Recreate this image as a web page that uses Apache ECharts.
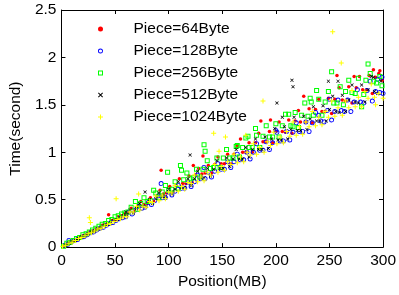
<!DOCTYPE html>
<html>
<head>
<meta charset="utf-8">
<script src="https://cdn.jsdelivr.net/npm/echarts@6/dist/echarts.min.js"></script>
<style>
  html, body { margin: 0; padding: 0; background: #fff; }
  #chart { width: 399px; height: 295px; }
</style>
</head>
<body>
<div id="chart"></div>
<script>
// series names as in the legend
const names = ['Piece=64Byte', 'Piece=128Byte', 'Piece=256Byte', 'Piece=512Byte', 'Piece=1024Byte'];

// [position MB, time s]
const piece64 = [[2,.01],[5,.03],[8,.05],[11,.06],[14,.08],[17,.10],[20,.12],[23,.13],[26,.16],[29,.17],[32,.19],[35,.20],[38,.23],[41,.24],[44,.34],[47,.28],[50,.29],[53,.32],[56,.33],[59,.35],[62,.36],[65,.41],[68,.38],[71,.43],[74,.48],[77,.45],[80,.46],[83,.52],[86,.48],[89,.54],[92,.60],[93,.81],[95,.56],[98,.57],[101,.64],[104,.58],[107,.65],[110,.72],[113,.67],[116,.67],[119,.75],[122,.68],[123,.86],[125,.76],[128,.83],[131,.77],[132,.96],[134,.78],[137,.86],[140,.78],[143,.87],[146,.95],[149,.88],[152,.88],[155,.98],[158,.88],[161,.98],[164,1.07],[167,1.14],[169,1.00],[172,1.00],[175,1.10],[178,1.00],[181,1.10],[184,1.20],[186,1.33],[188,1.11],[191,1.11],[194,1.22],[195,1.34],[197,1.10],[200,1.22],[203,1.32],[206,1.22],[209,1.21],[212,1.34],[215,1.20],[218,1.33],[221,1.44],[223,1.32],[226,1.59],[228,1.32],[231,1.46],[234,1.31],[237,1.45],[240,1.56],[243,1.43],[246,1.43],[249,1.57],[252,1.41],[255,1.56],[257,1.81],[259,1.68],[262,1.55],[265,1.54],[268,1.69],[271,1.52],[273,1.80],[275,1.68],[278,1.80],[281,1.66],[284,1.65],[287,1.81],[290,1.62],[291,1.87],[293,1.79],[296,1.83],[297,1.86],[299,1.76]];

const piece128 = [[3,.02],[6,.03],[7,.07],[9,.05],[12,.07],[15,.08],[18,.10],[21,.11],[24,.13],[27,.15],[30,.16],[33,.18],[36,.20],[39,.21],[42,.23],[45,.25],[48,.26],[51,.28],[54,.30],[57,.31],[60,.32],[63,.37],[66,.35],[69,.39],[72,.43],[75,.41],[78,.42],[81,.47],[84,.45],[87,.49],[90,.54],[93,.67],[94,.52],[97,.52],[100,.58],[103,.55],[106,.59],[109,.65],[112,.62],[115,.62],[118,.68],[121,.64],[124,.69],[127,.76],[130,.72],[133,.84],[134,.72],[137,.79],[140,.74],[143,.80],[146,.88],[149,.82],[152,.82],[155,.90],[158,.84],[161,.90],[164,.98],[167,.92],[170,.92],[173,1.00],[176,.93],[179,1.00],[182,1.09],[185,1.02],[188,1.02],[191,1.11],[194,1.03],[197,1.10],[200,1.23],[201,1.21],[204,1.12],[207,1.12],[210,1.22],[213,1.13],[216,1.21],[219,1.31],[222,1.22],[225,1.22],[228,1.32],[231,1.22],[234,1.31],[237,1.42],[240,1.39],[242,1.33],[245,1.32],[248,1.44],[250,1.56],[252,1.34],[255,1.43],[258,1.55],[261,1.44],[264,1.43],[267,1.55],[270,1.43],[273,1.53],[276,1.66],[279,1.53],[282,1.52],[285,1.65],[288,1.75],[290,1.54],[293,1.64],[295,1.77],[297,1.63],[299,1.79],[300,1.62]];

const piece256 = [[2,.01],[5,.04],[8,.05],[11,.07],[14,.09],[17,.10],[20,.13],[23,.14],[26,.16],[29,.18],[32,.20],[35,.22],[38,.24],[41,.25],[44,.28],[47,.29],[50,.32],[53,.33],[56,.35],[59,.36],[62,.37],[65,.42],[69,.48],[71,.40],[74,.46],[77,.52],[80,.48],[83,.49],[86,.60],[88,.57],[91,.52],[94,.58],[97,.65],[99,.79],[100,.60],[103,.61],[106,.69],[109,.62],[111,.86],[112,.81],[114,.71],[117,.78],[120,.72],[123,.73],[126,.82],[129,.74],[132,.82],[133,1.08],[134,1.01],[136,.91],[139,.83],[142,.84],[145,.94],[148,.84],[151,.94],[154,1.03],[157,.94],[160,.94],[163,1.06],[164,1.07],[166,.95],[169,1.05],[172,1.15],[174,1.17],[175,1.05],[178,1.05],[181,1.25],[182,1.18],[185,1.05],[188,1.17],[191,1.28],[194,1.16],[197,1.16],[200,1.30],[203,1.16],[206,1.28],[209,1.40],[212,1.40],[214,1.28],[216,1.27],[218,1.42],[221,1.26],[224,1.39],[227,1.52],[230,1.38],[232,1.57],[233,1.53],[235,1.39],[238,1.65],[240,1.56],[243,1.39],[246,1.53],[249,1.64],[252,1.85],[254,1.52],[257,1.52],[260,1.69],[263,1.50],[265,1.64],[268,1.76],[271,1.63],[274,1.62],[277,1.78],[280,1.48],[282,1.61],[284,1.76],[286,1.93],[288,1.83],[291,1.75],[294,1.73],[297,1.80],[299,1.70]];

const piece512 = [[4,.02],[7,.04],[10,.06],[13,.07],[16,.09],[19,.11],[22,.12],[25,.14],[28,.16],[31,.17],[34,.19],[37,.21],[40,.23],[43,.24],[46,.26],[49,.28],[52,.29],[55,.31],[58,.33],[60,.37],[61,.34],[64,.39],[67,.36],[70,.41],[73,.46],[76,.43],[78,.58],[79,.43],[82,.50],[85,.46],[88,.51],[91,.57],[94,.53],[97,.53],[100,.61],[103,.56],[106,.61],[109,.69],[112,.63],[115,.63],[118,.72],[120,.97],[121,.65],[124,.72],[127,.80],[130,.73],[133,.73],[136,.83],[139,.75],[142,.82],[145,.91],[148,.83],[151,.83],[154,.94],[157,.85],[160,.93],[163,1.03],[166,.93],[169,.93],[172,1.05],[175,.95],[178,1.03],[181,1.14],[184,1.03],[187,1.03],[190,1.16],[193,1.04],[196,1.14],[199,1.25],[201,1.52],[202,1.13],[205,1.13],[206,1.37],[208,1.27],[211,1.14],[214,1.24],[215,1.76],[216,1.69],[217,1.37],[220,1.23],[223,1.23],[226,1.38],[229,1.24],[232,1.35],[235,1.48],[238,1.33],[241,1.33],[244,1.49],[247,1.33],[249,1.75],[250,1.45],[253,1.59],[256,1.43],[258,1.75],[259,1.42],[262,1.60],[265,1.43],[268,1.55],[271,1.71],[274,1.53],[277,1.52],[280,1.71],[283,1.53],[286,1.66],[289,1.80],[291,1.79],[292,1.64],[295,1.62],[298,1.75]];

const piece1024 = [[1,.01],[4,.02],[7,.04],[10,.05],[13,.07],[16,.09],[19,.10],[22,.12],[25,.14],[26,.31],[27,.26],[28,.15],[31,.17],[34,.19],[37,.20],[40,.22],[43,.24],[46,.25],[49,.27],[51,.51],[52,.29],[55,.30],[58,.32],[61,.32],[64,.37],[67,.37],[70,.43],[72,.56],[73,.39],[76,.43],[79,.42],[82,.48],[85,.47],[88,.54],[91,.49],[94,.54],[97,.51],[100,.58],[103,.57],[106,.65],[109,.59],[112,.64],[115,.61],[118,.68],[121,.67],[124,.76],[127,.69],[130,.74],[133,.70],[136,.79],[139,.76],[142,1.20],[143,.87],[146,.79],[147,1.01],[149,.85],[152,.81],[153,1.16],[155,.90],[158,.87],[161,.98],[164,.89],[167,.95],[170,.90],[172,1.18],[173,1.00],[176,.97],[179,1.09],[182,.98],[185,1.05],[188,1.54],[189,1.00],[192,1.11],[195,1.07],[198,1.21],[201,1.09],[204,1.16],[207,1.10],[210,1.22],[213,1.17],[216,1.32],[219,1.18],[222,1.27],[225,1.19],[228,1.32],[231,1.27],[234,1.43],[237,1.28],[240,1.37],[243,1.29],[246,1.43],[249,1.37],[252,1.54],[253,2.27],[255,1.38],[258,1.47],[261,1.94],[262,1.39],[265,1.54],[268,1.47],[271,1.65],[274,1.48],[277,1.58],[280,1.48],[283,1.64],[286,1.57],[289,1.72],[292,1.58],[293,1.50],[296,1.62],[300,1.57]];

const font = 'Liberation Sans, Arial, sans-serif';
const chart = echarts.init(document.getElementById('chart'));

// matlab-ish markers, all drawn as filled paths so they stay hollow
const ring = 'path://M5,0A5,5 0 1,1 4.99,0Z M5,1.8A3.2,3.2 0 1,0 5.01,1.8Z';
const box = 'path://M0,0H10V10H0Z M2,2V8H8V2Z';
const cross = 'path://M0,1.4L1.4,0L10,8.6L8.6,10Z M8.6,0L10,1.4L1.4,10L0,8.6Z';
const plus = 'path://M4,0H6V10H4Z M0,4H10V6H0Z';

const mk = (name, data, symbol, size, color) => ({
  name, type: 'scatter', data, symbol, symbolSize: size,
  itemStyle: { color, opacity: 1 },
  emphasis: { disabled: true },
  animation: false
});

const axisCommon = {
  axisLine: { show: true, onZero: false, lineStyle: { color: '#000', width: 1 } },
  axisTick: { show: true, inside: true, length: 4, lineStyle: { color: '#000' } },
  splitLine: { show: false }
};

chart.setOption({
  backgroundColor: '#fff',
  animation: false,
  grid: { left: 58, right: 12, top: 10, bottom: 46 },
  legend: {
    orient: 'vertical',
    left: 98, top: 21,
    padding: 0,
    itemWidth: 50, itemHeight: 5, itemGap: 6,
    textStyle: { fontFamily: font, fontSize: 15.5, color: '#000', lineHeight: 16, padding: [0, 0, 0, 3] },
    data: names
  },
  xAxis: [
    Object.assign({
      type: 'value', min: 0, max: 300, interval: 50, position: 'bottom',
      name: 'Position(MB)', nameLocation: 'middle', nameGap: 25,
      nameTextStyle: { fontFamily: font, fontSize: 15.5, color: '#000' },
      axisLabel: { fontFamily: font, fontSize: 15.5, color: '#000', margin: 6 }
    }, axisCommon),
    Object.assign({
      type: 'value', min: 0, max: 300, interval: 50, position: 'top',
      axisLabel: { show: false }
    }, axisCommon)
  ],
  yAxis: [
    Object.assign({
      type: 'value', min: 0, max: 2.5, interval: 0.5, position: 'left',
      name: 'Time(second)', nameLocation: 'middle', nameGap: 35,
      nameTextStyle: { fontFamily: font, fontSize: 15.5, color: '#000' },
      axisLabel: { fontFamily: font, fontSize: 15.5, color: '#000', margin: 5 }
    }, axisCommon),
    Object.assign({
      type: 'value', min: 0, max: 2.5, interval: 0.5, position: 'right',
      axisLabel: { show: false }
    }, axisCommon)
  ],
  series: [
    mk(names[0], piece64, 'circle', 3.5, '#ff0000'),
    mk(names[1], piece128, ring, 5, '#0000ff'),
    mk(names[2], piece256, box, 5, '#00ff00'),
    mk(names[3], piece512, cross, 3.5, '#000000'),
    mk(names[4], piece1024, plus, 5, '#ffff00')
  ]
});
</script>
</body>
</html>
